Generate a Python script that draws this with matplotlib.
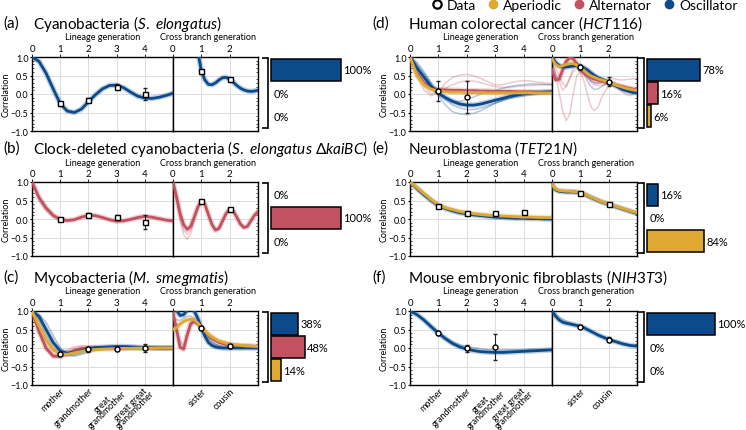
import matplotlib.pyplot as plt
from matplotlib.lines import Line2D
from matplotlib.ticker import MultipleLocator

plt.rcParams['font.family'] = ['Lato', 'DejaVu Sans']
plt.rcParams['mathtext.fontset'] = 'custom'
plt.rcParams['mathtext.rm'] = 'Lato'
plt.rcParams['mathtext.it'] = 'Lato:italic'
plt.rcParams['mathtext.bf'] = 'Lato:bold'

OSC = '#0b4a8b'
ALT = '#c2525f'
APE = '#dea832'

lin_x = [0, 0.25, 0.5, 0.75, 1, 1.25, 1.5, 1.75, 2, 2.25, 2.5, 2.75, 3,
         3.25, 3.5, 3.75, 4, 4.25, 4.5, 4.75, 5]
cross_x = [0, 0.125, 0.25, 0.375, 0.5, 0.625, 0.75, 0.875, 1, 1.125, 1.25,
           1.375, 1.5, 1.625, 1.75, 1.875, 2, 2.125, 2.25, 2.375, 2.5,
           2.625, 2.75, 2.875, 3]

y_ticks = [-1, -0.5, 0, 0.5, 1]
y_tick_labels = ['\u22121.0', '\u22120.5', '0.0', '0.5', '1.0']
lin_ticks = [0, 1, 2, 3, 4]
cross_ticks = [0, 1, 2]
lin_names = ['mother', 'grandmother', 'great\ngrandmother', 'great great\ngrandmother']
cross_names = ['sister', 'cousin']

# (a) cyanobacteria
a_lin_osc = [1.00, 0.88, 0.56, 0.14, -0.26, -0.46, -0.50, -0.41, -0.21, -0.02, 0.14,
             0.23, 0.24, 0.17, 0.05, -0.06, -0.11, -0.12, -0.09, -0.04, 0.02]
a_cross_osc = [1.60, 1.70, 1.80, 1.85, 1.80, 1.70, 1.50, 1.15, 0.62, 0.38, 0.26, 0.25,
               0.30, 0.38, 0.44, 0.45, 0.40, 0.32, 0.23, 0.16, 0.11, 0.08, 0.07, 0.08, 0.10]
a_pts_lin = [-0.25, -0.15, 0.20, 0.00]
a_err_lin = [0.02, 0.03, 0.07, 0.15]
a_pts_cross = [0.62, 0.40]
a_err_cross = [0.02, 0.02]
a_bars = [100, 0, 0]

# (b) clock-deleted cyanobacteria
b_lin_alt = [1.00, 0.58, 0.30, 0.10, -0.01, -0.04, -0.02, 0.05, 0.10, 0.09, 0.04,
             -0.02, -0.06, -0.05, -0.01, 0.04, 0.07, 0.05, 0.01, -0.03, -0.05]
b_lin_alt_f = [1.00, 0.50, 0.22, 0.05, -0.03, -0.05, -0.02, 0.04, 0.09, 0.08, 0.03,
               -0.02, -0.05, -0.04, -0.01, 0.03, 0.05, 0.04, 0.00, -0.03, -0.04]
b_cross_alt = [1.00, 0.60, 0.15, -0.15, -0.28, -0.20, 0.05, 0.32, 0.48, 0.40, 0.12, -0.15,
               -0.30, -0.25, -0.05, 0.15, 0.26, 0.22, 0.05, -0.13, -0.23, -0.20, -0.05, 0.10, 0.20]
b_cross_alt_f1 = [1.00, 0.55, 0.05, -0.30, -0.42, -0.30, 0.00, 0.30, 0.47, 0.40, 0.12, -0.16,
                  -0.31, -0.26, -0.06, 0.14, 0.26, 0.22, 0.05, -0.13, -0.23, -0.20, -0.06, 0.09, 0.19]
b_cross_alt_f2 = [1.00, 0.50, -0.05, -0.42, -0.55, -0.40, -0.05, 0.28, 0.46, 0.39, 0.11, -0.17,
                  -0.32, -0.27, -0.07, 0.14, 0.25, 0.21, 0.04, -0.14, -0.24, -0.21, -0.07, 0.09, 0.19]
b_pts_lin = [0.00, 0.12, 0.05, -0.08]
b_err_lin = [0.02, 0.04, 0.05, 0.18]
b_pts_cross = [0.48, 0.27]
b_err_cross = [0.02, 0.02]
b_bars = [0, 100, 0]

# (c) mycobacteria
c_lin_osc = [1.00, 0.85, 0.50, 0.15, -0.08, -0.14, -0.12, -0.07, -0.02, 0.01, 0.02,
             0.03, 0.04, 0.04, 0.03, 0.02, 0.01, 0.01, 0.00, 0.00, 0.00]
c_lin_ape = [1.00, 0.60, 0.22, -0.05, -0.16, -0.17, -0.13, -0.09, -0.06, -0.04, -0.03,
             -0.02, -0.02, -0.01, -0.01, 0.00, 0.00, 0.00, 0.00, 0.00, 0.00]
c_lin_alt = [1.00, 0.45, 0.00, -0.22, -0.23, -0.15, -0.06, -0.01, 0.00, 0.00, -0.01,
             -0.01, -0.01, -0.01, 0.00, 0.00, 0.00, 0.00, 0.00, 0.00, 0.00]
c_lin_alt_f = [1.00, 0.40, -0.05, -0.20, -0.15, -0.05, 0.03, 0.06, 0.05, 0.03, 0.00,
               -0.01, -0.02, -0.01, 0.00, 0.00, 0.00, 0.00, 0.00, 0.00, 0.00]
c_lin_osc_f1 = [1.00, 0.75, 0.35, 0.02, -0.17, -0.22, -0.20, -0.14, -0.09, -0.05, -0.02,
                0.00, 0.02, 0.02, 0.01, 0.01, 0.01, 0.00, 0.00, 0.00, 0.00]
c_lin_osc_f2 = [1.00, 0.90, 0.70, 0.35, 0.00, -0.18, -0.22, -0.18, -0.12, -0.07, -0.04,
                -0.02, 0.00, 0.00, 0.00, 0.00, 0.00, 0.00, 0.00, 0.00, 0.00]
c_cross_osc = [1.10, 1.02, 0.88, 0.90, 1.02, 1.08, 1.00, 0.80, 0.55, 0.32, 0.15, 0.07,
               0.03, 0.01, 0.00, 0.00, 0.00, 0.00, 0.00, 0.00, 0.00, 0.00, 0.00, 0.00, 0.00]
c_cross_ape = [0.50, 0.55, 0.65, 0.72, 0.76, 0.78, 0.76, 0.68, 0.57, 0.46, 0.37, 0.30,
               0.24, 0.19, 0.16, 0.13, 0.11, 0.09, 0.08, 0.07, 0.06, 0.05, 0.05, 0.04, 0.04]
c_cross_alt = [0.95, 0.50, 0.02, -0.03, 0.35, 0.66, 0.72, 0.65, 0.55, 0.44, 0.34, 0.26,
               0.20, 0.15, 0.12, 0.10, 0.08, 0.07, 0.06, 0.06, 0.05, 0.05, 0.05, 0.04, 0.04]
c_cross_alt_f = [0.90, 0.55, 0.20, 0.05, 0.30, 0.58, 0.68, 0.64, 0.55, 0.45, 0.36, 0.29,
                 0.24, 0.20, 0.17, 0.15, 0.13, 0.11, 0.10, 0.09, 0.08, 0.07, 0.07, 0.06, 0.06]
c_cross_osc_f1 = [0.80, 0.76, 0.75, 0.80, 0.86, 0.86, 0.80, 0.70, 0.58, 0.42, 0.28, 0.18,
                  0.11, 0.06, 0.03, 0.02, 0.01, 0.01, 0.00, 0.00, 0.00, 0.00, 0.00, 0.00, 0.00]
c_cross_osc_f2 = [0.65, 0.63, 0.65, 0.70, 0.75, 0.76, 0.72, 0.65, 0.55, 0.40, 0.25, 0.15,
                  0.09, 0.05, 0.02, 0.01, 0.00, 0.00, 0.00, 0.00, 0.00, 0.00, 0.00, 0.00, 0.00]
c_pts_lin = [-0.16, -0.04, -0.02, 0.00]
c_err_lin = [0.05, 0.08, 0.07, 0.10]
c_pts_cross = [0.55, 0.05]
c_err_cross = [0.04, 0.05]
c_bars = [38, 48, 14]

# (d) human colorectal cancer
d_lin_osc = [1.00, 0.70, 0.45, 0.20, 0.02, -0.10, -0.20, -0.27, -0.30, -0.30, -0.27,
             -0.22, -0.17, -0.12, -0.07, -0.03, 0.00, 0.02, 0.04, 0.05, 0.06]
d_lin_ape = [1.00, 0.50, 0.25, 0.13, 0.08, 0.06, 0.05, 0.05, 0.04, 0.04, 0.04,
             0.03, 0.03, 0.03, 0.03, 0.03, 0.03, 0.03, 0.03, 0.03, 0.03]
d_lin_alt = [1.00, 0.55, 0.30, 0.17, 0.12, 0.11, 0.10, 0.10, 0.09, 0.09, 0.08,
             0.08, 0.07, 0.07, 0.07, 0.06, 0.06, 0.06, 0.05, 0.05, 0.05]
d_lin_alt_f1 = [1.00, 0.45, 0.10, -0.05, 0.05, 0.30, 0.45, 0.51, 0.53, 0.49, 0.42,
                0.33, 0.25, 0.25, 0.30, 0.34, 0.36, 0.35, 0.32, 0.30, 0.28]
d_lin_alt_f2 = [1.00, 0.60, 0.20, 0.00, 0.05, 0.16, 0.25, 0.32, 0.36, 0.35, 0.30,
                0.25, 0.20, 0.18, 0.18, 0.20, 0.22, 0.23, 0.24, 0.25, 0.25]
d_lin_osc_f1 = [1.00, 0.80, 0.55, 0.25, -0.05, -0.30, -0.48, -0.54, -0.56, -0.52, -0.45,
                -0.35, -0.25, -0.17, -0.10, -0.05, 0.00, 0.03, 0.05, 0.05, 0.05]
d_lin_osc_f2 = [1.00, 0.85, 0.60, 0.30, 0.05, -0.10, -0.20, -0.20, -0.15, -0.08, 0.00,
                0.05, 0.10, 0.15, 0.20, 0.23, 0.25, 0.27, 0.27, 0.26, 0.25]
d_lin_osc_f3 = [1.00, 0.75, 0.45, 0.20, 0.00, -0.15, -0.30, -0.38, -0.42, -0.42, -0.38,
                -0.32, -0.25, -0.18, -0.12, -0.08, -0.05, -0.02, 0.00, 0.03, 0.05]
d_cross_osc = [1.00, 0.85, 0.76, 0.73, 0.73, 0.74, 0.76, 0.77, 0.75, 0.71, 0.65, 0.57,
               0.50, 0.44, 0.40, 0.36, 0.32, 0.27, 0.22, 0.17, 0.12, 0.09, 0.06, 0.04, 0.03]
d_cross_ape = [0.95, 0.80, 0.74, 0.76, 0.80, 0.82, 0.82, 0.78, 0.72, 0.64, 0.55, 0.49,
               0.45, 0.41, 0.38, 0.35, 0.32, 0.28, 0.24, 0.21, 0.18, 0.15, 0.13, 0.11, 0.10]
d_cross_alt = [0.65, 0.38, 0.40, 0.65, 0.88, 0.98, 0.95, 0.82, 0.65, 0.56, 0.50, 0.44,
               0.40, 0.37, 0.35, 0.32, 0.30, 0.27, 0.24, 0.22, 0.20, 0.17, 0.15, 0.13, 0.12]
d_cross_alt_f1 = [0.90, 0.55, 0.05, -0.45, -0.72, -0.55, 0.00, 0.50, 0.60, 0.35, 0.00, -0.35,
                  -0.45, -0.35, -0.10, 0.08, 0.20, 0.22, 0.20, 0.12, 0.05, -0.02, -0.05, 0.00, 0.05]
d_cross_alt_f2 = [0.95, 0.70, 0.50, 0.28, 0.20, 0.40, 0.70, 0.80, 0.80, 0.65, 0.50, 0.38,
                  0.30, 0.28, 0.30, 0.35, 0.40, 0.42, 0.40, 0.38, 0.38, 0.39, 0.40, 0.41, 0.42]
d_cross_alt_f3 = [0.85, 0.55, 0.35, 0.10, 0.20, 0.45, 0.60, 0.68, 0.70, 0.60, 0.45, 0.32,
                  0.25, 0.23, 0.24, 0.25, 0.25, 0.24, 0.22, 0.20, 0.18, 0.16, 0.15, 0.14, 0.14]
d_cross_osc_f1 = [1.00, 0.88, 0.80, 0.76, 0.75, 0.77, 0.80, 0.78, 0.72, 0.55, 0.35, 0.20,
                  0.12, 0.14, 0.20, 0.26, 0.30, 0.27, 0.22, 0.17, 0.13, 0.10, 0.07, 0.05, 0.04]
d_cross_osc_f2 = [1.00, 0.86, 0.80, 0.78, 0.78, 0.76, 0.74, 0.72, 0.70, 0.60, 0.45, 0.35,
                  0.30, 0.30, 0.32, 0.34, 0.35, 0.31, 0.26, 0.21, 0.16, 0.12, 0.09, 0.07, 0.05]
d_pts_lin = [0.08, -0.07]
d_err_lin = [0.28, 0.43]
d_pts_cross = [0.72, 0.33]
d_err_cross = [0.07, 0.12]
d_bars = [78, 16, 6]

# (e) neuroblastoma
e_lin_osc = [1.00, 0.82, 0.65, 0.50, 0.36, 0.28, 0.22, 0.17, 0.14, 0.11, 0.09,
             0.07, 0.05, 0.04, 0.03, 0.02, 0.02, 0.01, 0.01, 0.00, 0.00]
e_lin_ape = [1.00, 0.84, 0.68, 0.52, 0.38, 0.30, 0.25, 0.20, 0.17, 0.14, 0.12,
             0.10, 0.09, 0.08, 0.07, 0.06, 0.05, 0.05, 0.04, 0.04, 0.04]
e_cross_osc = [0.92, 0.79, 0.75, 0.74, 0.73, 0.73, 0.73, 0.72, 0.70, 0.67, 0.63, 0.58,
               0.54, 0.50, 0.46, 0.43, 0.40, 0.36, 0.33, 0.30, 0.27, 0.24, 0.21, 0.18, 0.15]
e_cross_ape = [0.93, 0.81, 0.77, 0.76, 0.75, 0.75, 0.74, 0.73, 0.71, 0.68, 0.64, 0.59,
               0.55, 0.51, 0.47, 0.44, 0.41, 0.37, 0.34, 0.31, 0.28, 0.25, 0.22, 0.19, 0.17]
e_pts_lin = [0.36, 0.16, 0.15, 0.18]
e_err_lin = [0.02, 0.02, 0.02, 0.02]
e_pts_cross = [0.70, 0.40]
e_err_cross = [0.01, 0.01]
e_bars = [16, 0, 84]

# (f) mouse embryonic fibroblasts
f_lin_osc = [1.00, 0.90, 0.75, 0.57, 0.40, 0.25, 0.12, 0.03, -0.03, -0.07, -0.10,
             -0.11, -0.12, -0.12, -0.11, -0.10, -0.09, -0.08, -0.07, -0.06, -0.05]
f_lin_osc_f = [1.00, 0.91, 0.77, 0.60, 0.43, 0.29, 0.17, 0.09, 0.04, 0.01, -0.02,
               -0.04, -0.05, -0.05, -0.05, -0.05, -0.05, -0.04, -0.04, -0.04, -0.04]
f_cross_osc = [1.00, 0.86, 0.76, 0.70, 0.67, 0.65, 0.63, 0.61, 0.58, 0.55, 0.50, 0.45,
               0.40, 0.35, 0.31, 0.27, 0.24, 0.20, 0.17, 0.14, 0.11, 0.09, 0.07, 0.06, 0.05]
f_cross_osc_f = [1.00, 0.92, 0.84, 0.78, 0.73, 0.69, 0.66, 0.62, 0.59, 0.55, 0.51, 0.46,
                 0.41, 0.36, 0.32, 0.28, 0.24, 0.21, 0.18, 0.15, 0.12, 0.10, 0.08, 0.06, 0.05]
f_pts_lin = [0.40, -0.01, 0.02]
f_err_lin = [0.05, 0.10, 0.35]
f_pts_cross = [0.58, 0.22]
f_err_cross = [0.03, 0.07]
f_bars = [100, 0, 0]

W, H = 746, 431
fig = plt.figure(figsize=(W / 100, H / 100), dpi=100)


def px_rect(left, top, width, height):
    return [left / W, 1 - (top + height) / H, width / W, height / H]


def fig_xy(x, y):
    return x / W, 1 - y / H


def draw_curves(ax, xs, curves):
    for ys, color, kind in curves:
        if kind == 'faint':
            ax.plot(xs, ys, color=color, lw=1.1, alpha=0.3, zorder=2)
    for ys, color, kind in curves:
        if kind == 'main':
            ax.plot(xs, ys, color=color, lw=4.0, alpha=0.25, zorder=3)
            ax.plot(xs, ys, color=color, lw=2.0, zorder=4)


def draw_points(ax, xs, ys, err, marker):
    ax.errorbar(xs, ys, yerr=err, fmt=marker, ms=3.6, mfc='white', mec='black',
                mew=1.0, ecolor='#222222', elinewidth=0.8, capsize=1.6,
                capthick=0.8, zorder=6)


def style_frame(ax, xmax, ticks, left_side):
    ax.set_xlim(0, xmax)
    ax.set_ylim(-1, 1)
    ax.set_xticks(ticks)
    ax.xaxis.tick_top()
    ax.tick_params(axis='x', length=2, width=0.6, pad=1, labelsize=7)
    ax.set_yticks(y_ticks)
    ax.yaxis.set_minor_locator(MultipleLocator(0.1))
    ax.grid(True, color='#dcdcdc', lw=0.7)
    ax.set_axisbelow(True)
    for s in ax.spines.values():
        s.set_linewidth(1.0)
    if left_side:
        ax.set_yticklabels(y_tick_labels)
        ax.tick_params(axis='y', labelsize=6.5, length=1.5, pad=1)
        ax.tick_params(axis='y', which='minor', direction='in', length=1.5, width=0.5)
    else:
        ax.tick_params(axis='y', left=False, labelleft=False)
        ax.tick_params(axis='y', which='minor', left=False, right=True,
                       direction='in', length=1.5, width=0.5)


def draw_bars(ax, vals):
    for v, c, y in zip(vals, [OSC, ALT, APE], [2, 1, 0]):
        if v > 0:
            ax.barh(y, v, height=0.94, color=c, edgecolor='black', linewidth=1.1)
        ax.annotate(f'{v}%', (v, y), xytext=(1.8, 0), textcoords='offset points',
                    ha='left', va='center', fontsize=8)
    ax.set_xlim(-4.3, 101.4)
    ax.set_ylim(-0.5, 2.5)
    for side in ['top', 'right', 'bottom']:
        ax.spines[side].set_visible(False)
    ax.spines['left'].set_linewidth(1.2)
    ax.set_xticks([])
    ax.set_yticks([-0.5, 2.5])
    ax.set_yticklabels([])
    ax.tick_params(axis='y', length=4, width=1.2, direction='out')
    ax.patch.set_alpha(0)


columns = [
    dict(lin_left=32, lin_w=141, cross_w=85, bar_left=268, bar_w=74, tag_x=3, title_x=33),
    dict(lin_left=410, lin_w=142, cross_w=85, bar_left=644, bar_w=72, tag_x=372, title_x=408),
]
row_tops = [58, 183, 312]
ROW_H = 74

panels = [
    dict(col=0, row=0, tag='(a)', title=r'Cyanobacteria ($\mathit{S.\ elongatus}$)',
         lin=[(a_lin_osc, OSC, 'main')],
         cross=[(a_cross_osc, OSC, 'main')],
         pts=(a_pts_lin, a_err_lin, a_pts_cross, a_err_cross), bars=a_bars,
         marker='s', names=False),
    dict(col=0, row=1, tag='(b)',
         title=r'Clock-deleted cyanobacteria ($\mathit{S.\ elongatus\ \Delta kaiBC}$)',
         lin=[(b_lin_alt_f, ALT, 'faint'), (b_lin_alt, ALT, 'main')],
         cross=[(b_cross_alt_f1, ALT, 'faint'), (b_cross_alt_f2, ALT, 'faint'),
                (b_cross_alt, ALT, 'main')],
         pts=(b_pts_lin, b_err_lin, b_pts_cross, b_err_cross), bars=b_bars,
         marker='s', names=False),
    dict(col=0, row=2, tag='(c)', title=r'Mycobacteria ($\mathit{M.\ smegmatis}$)',
         lin=[(c_lin_alt_f, ALT, 'faint'), (c_lin_osc_f1, OSC, 'faint'),
              (c_lin_osc_f2, OSC, 'faint'), (c_lin_alt, ALT, 'main'),
              (c_lin_osc, OSC, 'main'), (c_lin_ape, APE, 'main')],
         cross=[(c_cross_alt_f, ALT, 'faint'), (c_cross_osc_f1, OSC, 'faint'),
                (c_cross_osc_f2, OSC, 'faint'), (c_cross_alt, ALT, 'main'),
                (c_cross_osc, OSC, 'main'), (c_cross_ape, APE, 'main')],
         pts=(c_pts_lin, c_err_lin, c_pts_cross, c_err_cross), bars=c_bars,
         marker='o', names=True),
    dict(col=1, row=0, tag='(d)', title=r'Human colorectal cancer ($\mathit{HCT116}$)',
         lin=[(d_lin_alt_f1, ALT, 'faint'), (d_lin_alt_f2, ALT, 'faint'),
              (d_lin_osc_f1, OSC, 'faint'), (d_lin_osc_f2, OSC, 'faint'),
              (d_lin_osc_f3, OSC, 'faint'), (d_lin_alt, ALT, 'main'),
              (d_lin_osc, OSC, 'main'), (d_lin_ape, APE, 'main')],
         cross=[(d_cross_alt_f1, ALT, 'faint'), (d_cross_alt_f2, ALT, 'faint'),
                (d_cross_alt_f3, ALT, 'faint'), (d_cross_osc_f1, OSC, 'faint'),
                (d_cross_osc_f2, OSC, 'faint'), (d_cross_alt, ALT, 'main'),
                (d_cross_osc, OSC, 'main'), (d_cross_ape, APE, 'main')],
         pts=(d_pts_lin, d_err_lin, d_pts_cross, d_err_cross), bars=d_bars,
         marker='o', names=False),
    dict(col=1, row=1, tag='(e)', title=r'Neuroblastoma ($\mathit{TET21N}$)',
         lin=[(e_lin_osc, OSC, 'main'), (e_lin_ape, APE, 'main')],
         cross=[(e_cross_osc, OSC, 'main'), (e_cross_ape, APE, 'main')],
         pts=(e_pts_lin, e_err_lin, e_pts_cross, e_err_cross), bars=e_bars,
         marker='s', names=False),
    dict(col=1, row=2, tag='(f)', title=r'Mouse embryonic fibroblasts ($\mathit{NIH3T3}$)',
         lin=[(f_lin_osc_f, OSC, 'faint'), (f_lin_osc, OSC, 'main')],
         cross=[(f_cross_osc_f, OSC, 'faint'), (f_cross_osc, OSC, 'main')],
         pts=(f_pts_lin, f_err_lin, f_pts_cross, f_err_cross), bars=f_bars,
         marker='o', names=True),
]

for p in panels:
    c = columns[p['col']]
    top = row_tops[p['row']]
    ax_l = fig.add_axes(px_rect(c['lin_left'], top, c['lin_w'], ROW_H))
    ax_c = fig.add_axes(px_rect(c['lin_left'] + c['lin_w'], top, c['cross_w'], ROW_H))
    ax_b = fig.add_axes(px_rect(c['bar_left'], top + 1, c['bar_w'], 70))

    style_frame(ax_l, 5, lin_ticks, True)
    style_frame(ax_c, 3, cross_ticks, False)

    draw_curves(ax_l, lin_x, p['lin'])
    draw_curves(ax_c, cross_x, p['cross'])

    pl, el, pc, ec = p['pts']
    draw_points(ax_l, lin_ticks[1:1 + len(pl)], pl, el, p['marker'])
    draw_points(ax_c, cross_ticks[1:1 + len(pc)], pc, ec, p['marker'])

    draw_bars(ax_b, p['bars'])

    # headings
    fig.text(*fig_xy(c['tag_x'], top - 34), p['tag'], fontsize=11, va='center')
    fig.text(*fig_xy(c['title_x'], top - 34), p['title'], fontsize=11, va='center')
    fig.text(*fig_xy(c['lin_left'] + c['lin_w'] / 2, top - 20), 'Lineage generation',
             fontsize=6.5, ha='center', va='center')
    fig.text(*fig_xy(c['lin_left'] + c['lin_w'] + 34.5, top - 20), 'Cross branch generation',
             fontsize=6.5, ha='center', va='center')
    fig.text(*fig_xy(c['lin_left'] - 26, top + ROW_H / 2), 'Correlation',
             fontsize=6.5, rotation=90, ha='center', va='center')

    if p['names']:
        for x, name in zip(lin_ticks[1:], lin_names):
            two_lines = '\n' in name
            ax_l.text(x, 0.025 if two_lines else -0.01, name,
                      transform=ax_l.get_xaxis_transform(),
                      rotation=45, rotation_mode='anchor', ha='right', va='top',
                      multialignment='center', fontsize=6.3 if two_lines else 6.5,
                      linespacing=0.8)
        for x, name in zip(cross_ticks[1:], cross_names):
            ax_c.text(x, -0.01, name, transform=ax_c.get_xaxis_transform(),
                      rotation=45, rotation_mode='anchor', ha='right', va='top',
                      fontsize=6.5)

handles = [
    Line2D([], [], ls='none', marker='o', ms=6, mfc='white', mec='black', mew=1.6),
    Line2D([], [], ls='none', marker='o', ms=6, color=APE),
    Line2D([], [], ls='none', marker='o', ms=6, color=ALT),
    Line2D([], [], ls='none', marker='o', ms=6, color=OSC),
]
fig.legend(handles, ['Data', 'Aperiodic', 'Alternator', 'Oscillator'], loc='upper right',
           bbox_to_anchor=(1.0, 1.02), ncol=4, frameon=False, fontsize=10,
           handletextpad=0.2, columnspacing=0.75, handlelength=1.0, borderaxespad=0.2)

fig.savefig('out.png', dpi=100)
